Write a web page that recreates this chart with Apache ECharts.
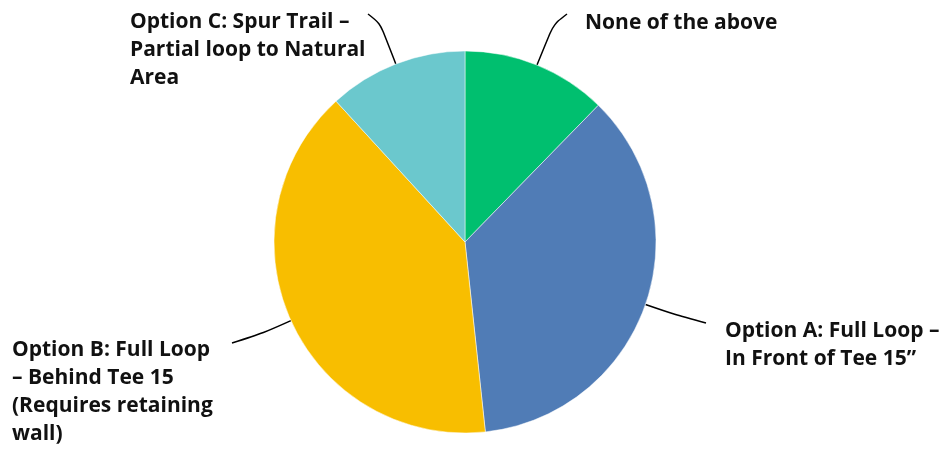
<!DOCTYPE html>
<html>
<head>
<meta charset="utf-8">
<script src="https://cdn.jsdelivr.net/npm/echarts@6/dist/echarts.min.js"></script>
<style>html,body{margin:0;padding:0;background:#fff;}#c{width:952px;height:451px;}</style>
</head>
<body>
<div id="c"></div>
<script>
const categories = [
  "None of the above",
  "Option A: Full Loop – In Front of Tee 15”",
  "Option B: Full Loop – Behind Tee 15 (Requires retaining wall)",
  "Option C: Spur Trail – Partial loop to Natural Area"
];
const labelTexts = [
  "None of the above",
  "Option A: Full Loop –\nIn Front of Tee 15”",
  "Option B: Full Loop\n– Behind Tee 15\n(Requires retaining\nwall)",
  "Option C: Spur Trail –\nPartial loop to Natural\nArea"
];
const values = [12.3, 36.0, 39.9, 11.8];
const colors = ["#00BF6F", "#507CB6", "#F8BE00", "#6BC8CD"];

// label / leader-line layout (style only)
const CX = 465, CY = 242, R = 191;
const labelPos = [
  {x: 585, y: 9,   ext: 44, ex: 567, ey: 14},
  {x: 725, y: 317, ext: 30, ex: 706, ey: 323},
  {x: 12,  y: 336, ext: 30, ex: 232, ey: 343},
  {x: 130, y: 8,   ext: 44, ex: 368, ey: 14}
];

const total = values.reduce((a, b) => a + b, 0);
function midAngle(i) {
  let s = 0;
  for (let k = 0; k < i; k++) s += values[k];
  return (s + values[i] / 2) / total * 2 * Math.PI;
}

const chart = echarts.init(document.getElementById('c'));
chart.setOption({
  animation: false,
  series: [{
    type: 'pie',
    center: [CX, CY],
    radius: [0, R],
    startAngle: 90,
    clockwise: true,
    data: categories.map((n, i) => ({
      name: n,
      value: values[i],
      itemStyle: {color: colors[i]},
      label: {formatter: labelTexts[i]}
    })),
    itemStyle: {borderColor: '#ffffff', borderWidth: 0.5},
    label: {
      show: true,
      position: 'outside',
      color: '#111',
      fontFamily: 'Open Sans',
      fontWeight: 'bold',
      fontSize: 21,
      lineHeight: 28,
      align: 'left'
    },
    labelLine: {
      show: true,
      smooth: 0.3,
      lineStyle: {color: '#000', width: 1.5}
    },
    labelLayout: function (p) {
      const i = p.dataIndex;
      const pos = labelPos[i];
      const a = midAngle(i);
      const sx = Math.sin(a), sy = -Math.cos(a);
      return {
        x: pos.x, y: pos.y, align: 'left', verticalAlign: 'top',
        labelLinePoints: [
          [CX + R * sx, CY + R * sy],
          [CX + (R + pos.ext) * sx, CY + (R + pos.ext) * sy],
          [pos.ex, pos.ey]
        ]
      };
    },
    emphasis: {disabled: true}
  }]
});
</script>
</body>
</html>
